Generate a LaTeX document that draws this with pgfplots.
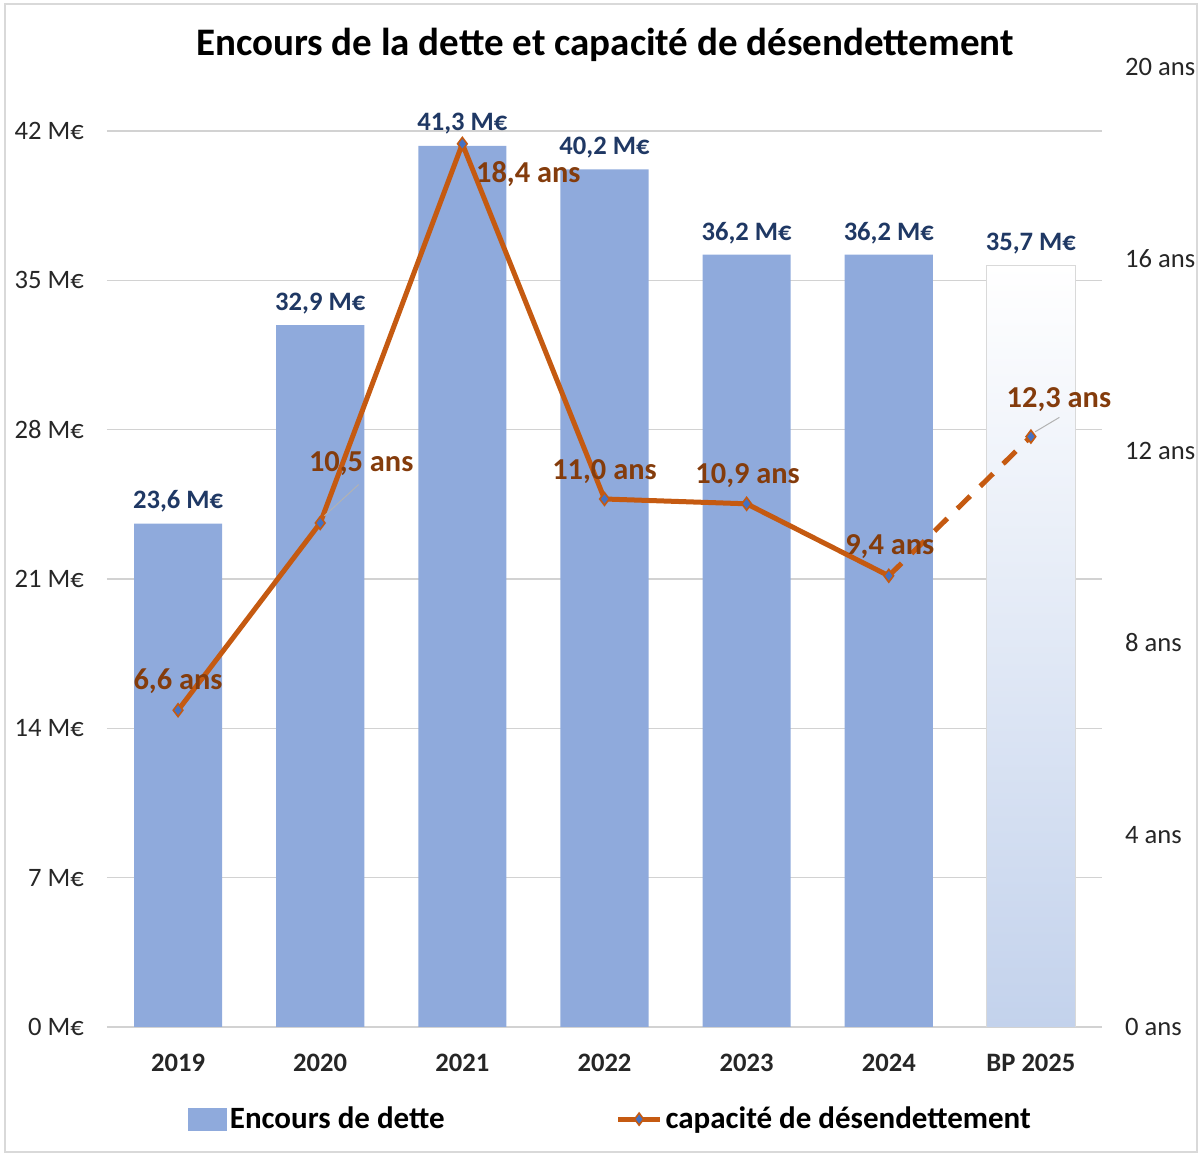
\documentclass[border=0pt]{standalone}
\usepackage{pgfplots}
\pgfplotsset{compat=1.18}
\usepackage{pgfplotstable}
\usepackage{fontspec}
\setmainfont{Carlito}

\definecolor{barblue}{HTML}{8FAADC}
\definecolor{lineor}{HTML}{C55A11}
\definecolor{mkblue}{HTML}{4472C4}
\definecolor{lblnavy}{HTML}{1F3864}
\definecolor{lblbrown}{HTML}{843C0C}
\definecolor{fadeblue}{HTML}{C3D2EC}

% encours de dette (M EUR)
\pgfplotstableread{
x y
0 23.6
1 32.9
2 41.3
3 40.2
4 36.2
5 36.2
}\encours
\pgfplotstableread{
x y
6 35.7
}\encoursbp

% capacite de desendettement (ans), dx/dy = label offsets in pt
\pgfplotstableread{
x y dx dy
0 6.6 0 14.5
1 10.5 20.5 29.5
2 18.4 33 -15
3 11.0 0 13.5
4 10.9 0.5 14
5 9.4 0.5 14.5
6 12.3 14 18.5
}\capa

\pgfplotsset{
  common/.style={
    scale only axis, width=497.5pt, height=480pt,
    at={(0,0)}, anchor=south west,
    xmin=-0.5, xmax=6.5,
    axis line style={draw=none}, major tick length=0pt,
    /pgf/number format/assume math mode=true,
    tick label style={font=\fontsize{13.3}{16}\selectfont, text=black!85},
  }
}

\begin{document}
\begin{tikzpicture}
\useasboundingbox (-53.5pt,-65pt) rectangle (547pt,513.5pt);

\begin{axis}[
    common,
    ymin=0, ymax=45,
    ytick={0,7,...,42},
    yticklabel={\pgfmathprintnumber{\tick}~M€},
    yticklabel style={xshift=-8pt},
    ymajorgrids, grid style={gray!35, line width=0.7pt},
    xtick={0,...,6},
    xticklabels={2019,2020,2021,2022,2023,2024,BP 2025},
    xticklabel style={font=\bfseries\fontsize{13.3}{16}\selectfont, yshift=-10pt},
    ybar, bar width=0.62,
    nodes near coords={\pgfmathprintnumber[fixed,precision=1,fixed zerofill,use comma]{\pgfplotspointmeta}~M€},
    every node near coord/.append style={anchor=center, yshift=11pt,
        font=\bfseries\fontsize{13.3}{16}\selectfont, text=lblnavy},
  ]
  \addplot[bar shift=0pt, fill=barblue, draw=none] table[x=x,y=y] {\encours};
  \addplot[bar shift=0pt, top color=white, bottom color=fadeblue, draw=gray!30] table[x=x,y=y] {\encoursbp};
\end{axis}

\begin{axis}[
    common,
    ymin=0, ymax=20,
    ytick={0,4,...,20},
    yticklabel={\pgfmathprintnumber{\tick}~ans},
    axis y line*=right, hide x axis,
    yticklabel style={xshift=8pt},
    legend columns=2,
    legend style={at={(rel axis cs:0.5065,-0.096)}, anchor=center, draw=none,
      font=\bfseries\fontsize{15.5}{18}\selectfont, text=black,
      nodes={inner xsep=1.5pt},
      /tikz/every odd column/.append style={column sep=0pt},
      /tikz/every even column/.append style={column sep=84pt}},
  ]
  \addlegendimage{legend image code/.code={\fill[barblue] (0pt,-5.5pt) rectangle (19pt,5.5pt);}}
  \addlegendentry{Encours de dette}
  \addlegendimage{legend image code/.code={
      \draw[lineor, line width=2.5pt] (0pt,0pt) -- (21pt,0pt);
      \path[mark options={fill=mkblue, draw=lineor, line width=0.8pt}] plot[mark=diamond*, mark size=3pt] coordinates {(10.5pt,0pt)};}}
  \addlegendentry{capacité de désendettement}

  % solid part 2019-2024
  \addplot[lineor, line width=2.5pt, line join=round, forget plot,
    skip coords between index={6}{7}] table[x=x,y=y] {\capa};
  % dashed part 2024-BP 2025
  \addplot[lineor, line width=2.5pt, dash pattern=on 9pt off 7pt, forget plot,
    skip coords between index={0}{5}] table[x=x,y=y] {\capa};
  % markers and labels
  \addplot[only marks, forget plot, mark=diamond*, mark size=3.2pt,
    mark options={fill=mkblue, draw=lineor, line width=0.8pt},
    visualization depends on={\thisrow{dx} \as \lx},
    visualization depends on={\thisrow{dy} \as \ly},
    nodes near coords={\pgfmathprintnumber[fixed,precision=1,fixed zerofill,use comma]{\pgfplotspointmeta}~ans},
    every node near coord/.append style={anchor=center, xshift=\lx pt, yshift=\ly pt,
        font=\bfseries\fontsize{15.2}{18}\selectfont, text=lblbrown},
  ] table[x=x,y=y] {\capa};
  % leader lines
  \draw[gray!60, line width=0.5pt] (axis cs:1.03,10.65) -- (axis cs:1.27,11.3);
  \draw[gray!60, line width=0.5pt] (axis cs:6.03,12.4) -- (axis cs:6.2,12.7);
\end{axis}
\node[font=\bfseries\fontsize{19.5}{23}\selectfont] at (249pt,491pt)
  {Encours de la dette et capacité de désendettement};
\draw[gray!30, line width=0.8pt] (-51pt,-62.5pt) rectangle (545pt,511.5pt);
\end{tikzpicture}
\end{document}
